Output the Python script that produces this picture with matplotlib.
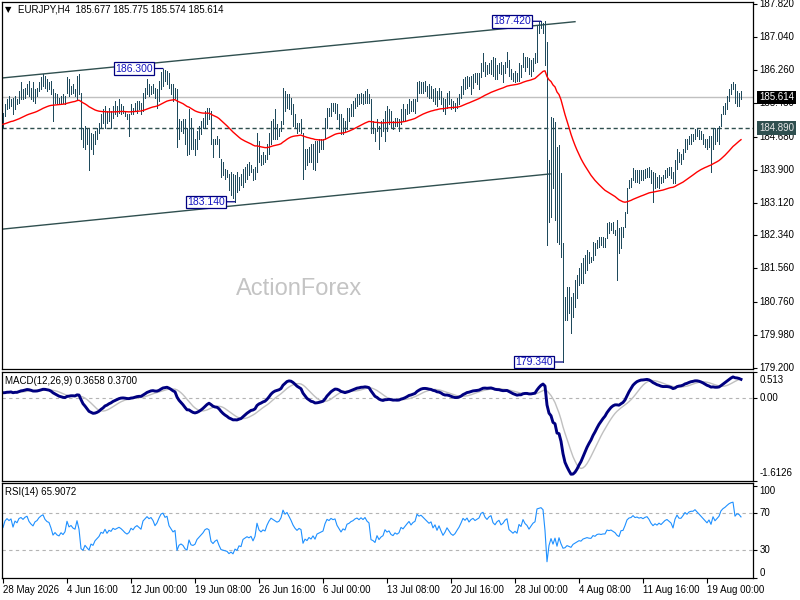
import numpy as np
import pandas as pd
import matplotlib
matplotlib.use('Agg')
import matplotlib.pyplot as plt

plt.rcParams['font.family'] = ['Liberation Sans', 'DejaVu Sans']
plt.rcParams['font.size'] = 7

# EURJPY H4 bars (370 bars, oldest first)
highs = [
    185.24, 185.46, 185.58, 185.65, 185.58, 185.60, 185.65, 185.58, 185.77, 185.97,
    185.82, 185.84, 185.94, 186.01, 185.84, 185.97, 185.82, 185.84, 185.97, 186.09,
    186.18, 186.13, 186.06, 185.97, 186.01, 185.82, 185.72, 185.70, 185.60, 185.65,
    185.70, 185.65, 186.09, 186.06, 185.89, 185.94, 185.82, 186.13, 186.18, 185.72,
    184.88, 184.93, 184.86, 184.86, 184.76, 184.74, 184.81, 184.88, 185.00, 185.22,
    185.34, 185.41, 185.29, 185.36, 185.29, 185.41, 185.53, 185.41, 185.58, 185.46,
    185.41, 185.29, 185.22, 185.22, 185.46, 185.36, 185.48, 185.53, 185.53, 185.48,
    185.72, 185.84, 186.04, 185.94, 185.89, 185.94, 185.84, 185.82, 186.01, 186.22,
    186.30, 186.26, 186.24, 186.20, 185.94, 185.94, 185.84, 185.82, 185.10, 185.05,
    185.10, 185.10, 184.88, 185.34, 185.12, 184.86, 184.64, 184.81, 184.93, 185.05,
    185.12, 185.29, 185.36, 185.36, 185.29, 184.64, 184.64, 184.69, 184.64, 184.16,
    184.09, 183.92, 183.89, 183.79, 183.84, 183.79, 183.77, 183.84, 183.72, 183.79,
    183.92, 183.96, 184.04, 184.09, 184.01, 183.92, 183.96, 184.76, 184.57, 184.25,
    184.33, 184.25, 184.50, 184.76, 185.05, 185.10, 185.34, 184.98, 184.88, 185.05,
    185.84, 185.77, 185.70, 185.70, 185.60, 185.46, 185.22, 185.00, 185.00, 185.10,
    184.76, 184.40, 184.40, 184.45, 184.50, 184.52, 184.57, 184.57, 184.62, 184.64,
    184.64, 185.12, 185.36, 185.36, 185.48, 185.48, 185.48, 185.46, 185.22, 185.22,
    185.12, 185.05, 185.36, 185.36, 185.46, 185.53, 185.60, 185.70, 185.70, 185.72,
    185.70, 185.77, 185.82, 185.70, 185.58, 185.05, 184.88, 185.10, 184.93, 185.05,
    185.10, 185.29, 185.41, 185.34, 185.29, 185.05, 185.12, 185.12, 185.10, 185.34,
    185.46, 185.34, 185.46, 185.58, 185.53, 185.58, 185.58, 185.97, 186.01, 185.97,
    185.97, 186.01, 185.89, 185.94, 185.89, 185.82, 185.84, 185.77, 185.84, 185.77,
    185.60, 185.58, 185.72, 185.77, 185.58, 185.53, 185.48, 185.60, 185.70, 185.89,
    186.06, 186.09, 186.13, 186.09, 186.13, 186.18, 186.20, 186.20, 186.20, 186.42,
    186.66, 186.45, 186.38, 186.42, 186.50, 186.57, 186.54, 186.38, 186.42, 186.45,
    186.38, 186.45, 186.69, 186.50, 186.30, 186.20, 186.25, 186.20, 186.42, 186.38,
    186.66, 186.57, 186.57, 186.54, 186.50, 186.54, 186.66, 187.34, 187.41, 187.42,
    187.39, 187.42, 186.93, 184.13, 185.15, 185.13, 185.03, 184.44, 184.49, 183.82,
    182.16, 180.88, 181.12, 181.12, 180.88, 180.98, 181.29, 181.40, 181.57, 181.69,
    181.81, 181.88, 182.00, 181.95, 181.83, 182.19, 182.16, 182.24, 182.30, 182.30,
    182.30, 182.28, 182.64, 182.66, 182.64, 182.66, 182.47, 182.71, 182.52, 182.54,
    182.54, 182.90, 183.47, 183.66, 183.70, 183.94, 183.89, 183.89, 183.89, 183.89,
    183.89, 183.92, 183.94, 183.97, 183.89, 183.85, 183.82, 183.73, 183.78, 183.73,
    183.78, 183.89, 183.94, 183.97, 183.97, 183.85, 184.13, 184.40, 184.33, 184.28,
    184.40, 184.62, 184.64, 184.69, 184.74, 184.74, 184.86, 184.88, 184.83, 184.81,
    184.74, 184.64, 184.64, 184.69, 184.69, 184.86, 184.88, 184.88, 184.93, 185.22,
    185.41, 185.48, 185.65, 185.82, 185.94, 185.99, 185.94, 185.77, 185.72, 185.775,
]
lows = [
    184.88, 185.17, 185.34, 185.36, 185.41, 185.22, 185.34, 185.46, 185.48, 185.58,
    185.58, 185.60, 185.70, 185.65, 185.58, 185.53, 185.48, 185.65, 185.77, 185.82,
    185.89, 185.84, 185.77, 185.82, 185.70, 185.05, 185.48, 185.46, 185.46, 185.48,
    185.48, 185.46, 185.72, 185.65, 185.70, 185.72, 185.65, 185.58, 185.70, 184.64,
    184.45, 184.38, 184.52, 183.89, 184.38, 184.28, 184.52, 184.64, 184.76, 184.88,
    185.00, 184.88, 185.00, 185.05, 184.88, 185.12, 185.22, 185.17, 185.24, 185.22,
    185.24, 185.17, 185.10, 184.69, 185.22, 185.22, 185.29, 185.24, 185.34, 185.22,
    185.29, 185.60, 185.70, 185.65, 185.70, 185.72, 185.60, 185.36, 185.53, 185.82,
    185.89, 186.01, 185.94, 185.84, 185.70, 185.53, 185.60, 184.45, 184.64, 184.81,
    184.76, 184.50, 184.25, 184.28, 184.40, 184.38, 184.25, 184.40, 184.64, 184.74,
    184.88, 184.88, 184.98, 185.10, 184.52, 184.21, 184.50, 184.50, 184.21, 183.72,
    183.77, 183.67, 183.72, 183.41, 183.29, 183.24, 183.14, 183.36, 183.43, 183.53,
    183.48, 183.60, 183.67, 183.77, 183.84, 183.65, 183.67, 183.84, 184.09, 184.01,
    184.04, 184.09, 184.16, 184.28, 184.50, 184.64, 184.64, 184.62, 184.69, 184.81,
    184.98, 185.29, 185.36, 185.34, 185.22, 184.93, 184.88, 184.76, 184.81, 184.76,
    183.67, 183.92, 184.01, 184.09, 184.09, 183.92, 183.89, 184.09, 184.33, 184.38,
    184.40, 184.64, 184.88, 185.17, 185.17, 185.29, 185.24, 185.10, 184.86, 184.74,
    184.74, 184.81, 184.86, 185.05, 185.17, 185.17, 185.36, 185.41, 185.46, 185.48,
    185.46, 185.48, 185.48, 185.48, 184.76, 184.76, 184.57, 184.81, 184.40, 184.69,
    184.81, 184.57, 184.81, 184.98, 184.88, 184.86, 184.93, 184.93, 184.81, 184.98,
    185.05, 185.05, 185.22, 185.24, 185.29, 185.29, 185.24, 185.53, 185.72, 185.72,
    185.72, 185.77, 185.65, 185.60, 185.60, 185.53, 185.46, 185.41, 185.58, 185.46,
    185.29, 185.22, 185.36, 185.46, 185.34, 185.36, 185.29, 185.36, 185.46, 185.60,
    185.70, 185.82, 185.84, 185.89, 185.70, 185.84, 185.97, 185.94, 185.82, 186.09,
    186.25, 186.13, 186.18, 186.20, 186.18, 186.13, 186.06, 186.06, 186.20, 186.18,
    185.97, 186.20, 186.33, 186.13, 186.06, 186.01, 185.97, 186.01, 186.01, 186.09,
    186.33, 186.25, 186.33, 186.18, 186.13, 186.25, 186.42, 186.45, 187.15, 187.27,
    187.15, 186.38, 182.12, 182.66, 182.78, 183.47, 182.71, 182.19, 182.14, 181.83,
    179.34, 180.34, 180.34, 180.50, 180.03, 180.41, 180.65, 180.86, 181.17, 181.21,
    181.21, 181.45, 181.52, 181.69, 181.71, 181.76, 181.88, 182.04, 182.07, 182.12,
    182.07, 182.07, 182.28, 182.40, 182.47, 182.40, 182.35, 181.29, 181.93, 182.04,
    182.30, 182.54, 182.87, 183.47, 183.49, 183.66, 183.61, 183.61, 183.59, 183.66,
    183.66, 183.70, 183.73, 183.73, 183.59, 183.14, 183.47, 183.49, 183.47, 183.59,
    183.61, 183.70, 183.73, 183.78, 183.70, 183.59, 183.59, 183.92, 184.09, 184.04,
    184.16, 184.33, 184.38, 184.50, 184.52, 184.57, 184.64, 184.69, 184.64, 184.62,
    184.52, 184.45, 184.40, 184.45, 183.84, 184.40, 184.50, 184.57, 184.50, 184.93,
    185.22, 185.22, 185.34, 185.53, 185.70, 185.82, 185.48, 185.41, 185.41, 185.574,
]
closes = [
    185.15, 185.40, 185.50, 185.45, 185.52, 185.30, 185.55, 185.50, 185.70, 185.75,
    185.70, 185.80, 185.85, 185.72, 185.65, 185.60, 185.75, 185.80, 185.92, 186.00,
    186.05, 185.95, 185.90, 185.88, 185.75, 185.55, 185.62, 185.55, 185.52, 185.60,
    185.55, 185.62, 185.95, 185.80, 185.85, 185.78, 185.75, 186.05, 185.80, 184.75,
    184.60, 184.80, 184.60, 184.40, 184.65, 184.55, 184.75, 184.85, 184.95, 185.15,
    185.10, 185.30, 185.10, 185.25, 185.20, 185.35, 185.30, 185.35, 185.40, 185.35,
    185.28, 185.20, 185.15, 185.20, 185.35, 185.30, 185.40, 185.45, 185.40, 185.35,
    185.65, 185.75, 185.85, 185.80, 185.85, 185.78, 185.65, 185.75, 185.95, 186.15,
    186.20, 186.10, 186.15, 185.90, 185.80, 185.70, 185.75, 184.70, 184.90, 184.95,
    184.85, 184.60, 184.50, 184.90, 184.55, 184.50, 184.55, 184.75, 184.85, 184.95,
    185.05, 185.20, 185.25, 185.20, 184.60, 184.45, 184.55, 184.60, 184.25, 183.90,
    183.85, 183.80, 183.75, 183.55, 183.60, 183.45, 183.60, 183.50, 183.65, 183.60,
    183.85, 183.90, 183.95, 183.90, 183.95, 183.75, 183.90, 184.50, 184.20, 184.10,
    184.20, 184.15, 184.45, 184.70, 184.90, 184.85, 184.80, 184.75, 184.80, 185.00,
    185.60, 185.45, 185.60, 185.45, 185.30, 185.10, 184.95, 184.85, 184.95, 184.90,
    184.10, 184.30, 184.20, 184.35, 184.25, 184.40, 184.20, 184.45, 184.50, 184.55,
    184.60, 185.00, 185.30, 185.25, 185.40, 185.35, 185.40, 185.15, 185.00, 184.85,
    185.00, 184.95, 185.25, 185.30, 185.40, 185.45, 185.55, 185.60, 185.55, 185.65,
    185.60, 185.70, 185.60, 185.55, 184.90, 184.85, 184.75, 185.00, 184.80, 184.90,
    184.95, 185.20, 185.10, 185.15, 185.00, 184.95, 185.05, 185.00, 185.05, 185.25,
    185.20, 185.30, 185.40, 185.50, 185.40, 185.50, 185.55, 185.90, 185.85, 185.90,
    185.85, 185.80, 185.75, 185.70, 185.75, 185.60, 185.70, 185.55, 185.70, 185.55,
    185.40, 185.50, 185.65, 185.55, 185.45, 185.40, 185.45, 185.55, 185.65, 185.80,
    186.00, 185.95, 186.05, 185.95, 186.05, 186.10, 186.05, 186.10, 186.15, 186.35,
    186.40, 186.30, 186.25, 186.35, 186.40, 186.25, 186.20, 186.30, 186.35, 186.25,
    186.30, 186.40, 186.45, 186.20, 186.15, 186.10, 186.15, 186.10, 186.35, 186.30,
    186.55, 186.45, 186.40, 186.30, 186.40, 186.50, 186.55, 187.25, 187.30, 187.35,
    187.30, 186.60, 182.40, 184.00, 184.90, 183.70, 184.60, 182.50, 184.05, 182.20,
    180.50, 180.60, 181.00, 180.70, 180.40, 180.90, 181.10, 181.30, 181.50, 181.40,
    181.70, 181.80, 181.90, 181.80, 181.78, 182.10, 182.00, 182.20, 182.25, 182.20,
    182.25, 182.25, 182.60, 182.55, 182.60, 182.50, 182.40, 182.20, 182.10, 182.50,
    182.52, 182.88, 183.40, 183.60, 183.65, 183.85, 183.75, 183.80, 183.75, 183.80,
    183.75, 183.85, 183.90, 183.80, 183.65, 183.55, 183.65, 183.60, 183.70, 183.65,
    183.75, 183.85, 183.90, 183.85, 183.80, 183.65, 184.05, 184.30, 184.20, 184.20,
    184.35, 184.55, 184.50, 184.65, 184.70, 184.70, 184.80, 184.75, 184.70, 184.65,
    184.60, 184.55, 184.50, 184.60, 184.50, 184.80, 184.70, 184.80, 184.90, 185.20,
    185.35, 185.45, 185.60, 185.75, 185.85, 185.90, 185.55, 185.70, 185.68, 185.614,
]

date_labels = ['28 May 2026', '4 Jun 16:00', '12 Jun 00:00', '19 Jun 08:00',
               '26 Jun 16:00', '6 Jul 00:00', '13 Jul 08:00', '20 Jul 16:00',
               '28 Jul 00:00', '4 Aug 08:00', '11 Aug 16:00', '19 Aug 00:00']
label_step = 32

price_ticks = [187.82, 187.04, 186.26, 185.48, 184.68, 183.90,
               183.12, 182.34, 181.56, 180.76, 179.98, 179.20]
level_line = 184.89

# indicator settings and their values at the left edge
ma_period = 55
ma_start = 184.97
ema12_start, ema26_start = 185.30, 185.17
rsi_gain_start, rsi_loss_start = 0.060, 0.050
macd_max, macd_min = 0.513, -1.6126

# channel lines drawn on the chart
upper_x, upper_y = [-0.5, 286], [186.075, 187.41]
lower_x, lower_y = [-0.5, 273.5], [182.49, 183.80]

# marked swing points
swings = [(80, 'high'), (116, 'low'), (269, 'high'), (280, 'low')]

header = 'EURJPY,H4  185.677 185.775 185.574 185.614'
macd_title = 'MACD(12,26,9) 0.3658 0.3700'
rsi_title = 'RSI(14) 65.9072'

bar_col = '#1f4a5c'
slate = '#2f4f4f'


def ema(values, period, start):
    alpha = 2.0 / (period + 1)
    out, prev = [], start
    for v in values:
        prev = prev + alpha * (v - prev)
        out.append(prev)
    return np.array(out)


def wilder_rsi(values, period, g0, l0):
    out, ag, al = [], g0, l0
    prev = values[0]
    for v in values:
        d = v - prev
        prev = v
        ag = (ag * (period - 1) + max(d, 0)) / period
        al = (al * (period - 1) + max(-d, 0)) / period
        out.append(100 - 100 / (1 + ag / al))
    return np.array(out)


n = len(closes)
idx = np.arange(n)
ma = ema(closes, ma_period, ma_start)
macd = ema(closes, 12, ema12_start) - ema(closes, 26, ema26_start)
signal = pd.Series(macd).rolling(9, min_periods=1).mean().values
rsi = wilder_rsi(closes, 14, rsi_gain_start, rsi_loss_start)

W, H = 800, 600
fig = plt.figure(figsize=(8, 6), dpi=100)


def px_box(x0, y0, x1, y1):
    return [x0 / W, 1 - y1 / H, (x1 - x0) / W, (y1 - y0) / H]


ax = fig.add_axes(px_box(2, 2, 753, 369))
am = fig.add_axes(px_box(2, 372, 753, 481))
ar = fig.add_axes(px_box(2, 483, 753, 578))

for a in (ax, am, ar):
    a.set_xlim(-0.5, 375)
    for s in a.spines.values():
        s.set_linewidth(0.9)
        s.set_color('black')
    a.tick_params(axis='y', left=False, right=True, labelleft=False,
                  labelright=False, length=3, width=0.8, direction='out')
    a.tick_params(axis='x', bottom=False, labelbottom=False)


def right_label(a, value, text, dy=0, va='center', **kw):
    a.annotate(text, xy=(1, value), xycoords=a.get_yaxis_transform(),
               xytext=(4.5, dy), textcoords='offset points',
               ha='left', va=va, fontsize=7, **kw)


# ---- main price panel
ax.set_ylim(179.174, 187.877)
ax.text(0.396, 0.218, 'ActionForex', transform=ax.transAxes, fontsize=17,
        family='Liberation Sans', color='#c4c4c4', ha='center', va='center', zorder=0)
ax.axhline(closes[-1], color='#c0c0c0', lw=1, zorder=1)
ax.axhline(level_line, color=slate, lw=1, ls=(0, (3, 2)), zorder=1)
ax.plot(upper_x, upper_y, color=slate, lw=1, zorder=2)
ax.plot(lower_x, lower_y, color=slate, lw=1, zorder=2)
ax.vlines(idx, lows, highs, color=bar_col, lw=0.5, antialiased=False, zorder=3)
ax.plot(idx, ma, color='red', lw=1, zorder=4)

for i, kind in swings:
    v = highs[i] if kind == 'high' else lows[i]
    ax.annotate(f'{v:.3f}', xy=(i, v), xytext=(-7.5, 0), textcoords='offset points',
                ha='right', va='center', fontsize=7.5, color='#1515c0', zorder=6,
                bbox=dict(boxstyle='square,pad=0.12', fc='white', ec='#000080', lw=0.9),
                arrowprops=dict(arrowstyle='-', color='#000080', lw=0.9,
                                shrinkA=0, shrinkB=0))

ax.set_yticks(price_ticks)
for v in price_ticks:
    right_label(ax, v, f'{v:.3f}')
right_label(ax, closes[-1], f'{closes[-1]:.3f}', color='white', zorder=10,
            bbox=dict(boxstyle='square,pad=0.18', fc='black', ec='none'))
right_label(ax, level_line, f'{level_line:.3f}', color='#e6e6e6', zorder=10,
            bbox=dict(boxstyle='square,pad=0.18', fc=slate, ec='none'))

fig.text(5 / W, 1 - 10 / H, '\u25bc', fontsize=6, va='center', ha='left',
         family=['DejaVu Sans'])
fig.text(18 / W, 1 - 10 / H, header, fontsize=7, va='center', ha='left')

# ---- MACD panel
am.set_ylim(macd_min, macd_max)
am.axhline(0, color='#b4b4b4', lw=0.8, ls=(0, (3, 3)))
am.plot(idx, signal, color='#c0c0c0', lw=1)
am.plot(idx, macd, color='#000080', lw=2.1)
am.set_yticks([macd_max, 0, macd_min])
right_label(am, macd_max, '0.513', dy=-2.5, va='top')
right_label(am, 0, '0.00')
right_label(am, macd_min, '-1.6126', dy=2.5, va='bottom')
am.annotate(macd_title, xy=(0, 1), xycoords='axes fraction', xytext=(2, -3),
            textcoords='offset points', ha='left', va='top', fontsize=7)

# ---- RSI panel
ar.set_ylim(-0.5, 103)
for lvl in (70, 30):
    ar.axhline(lvl, color='#b4b4b4', lw=0.8, ls=(0, (3, 3)))
ar.plot(idx, rsi, color='#1e90ff', lw=0.8)
ar.set_yticks([100, 70, 30, 0])
right_label(ar, 100, '100', dy=-3.5)
right_label(ar, 70, '70')
right_label(ar, 30, '30')
right_label(ar, 0, '0', dy=3.5)
ar.annotate(rsi_title, xy=(0, 1), xycoords='axes fraction', xytext=(2, -3),
            textcoords='offset points', ha='left', va='top', fontsize=7)

ar.set_xticks(np.arange(0, n, label_step))
ar.set_xticklabels(date_labels, ha='left')
ar.tick_params(axis='x', bottom=True, labelbottom=True, length=3.5, width=0.8,
               direction='out', pad=1.5, labelsize=7)

fig.savefig('out.png', dpi=100)
